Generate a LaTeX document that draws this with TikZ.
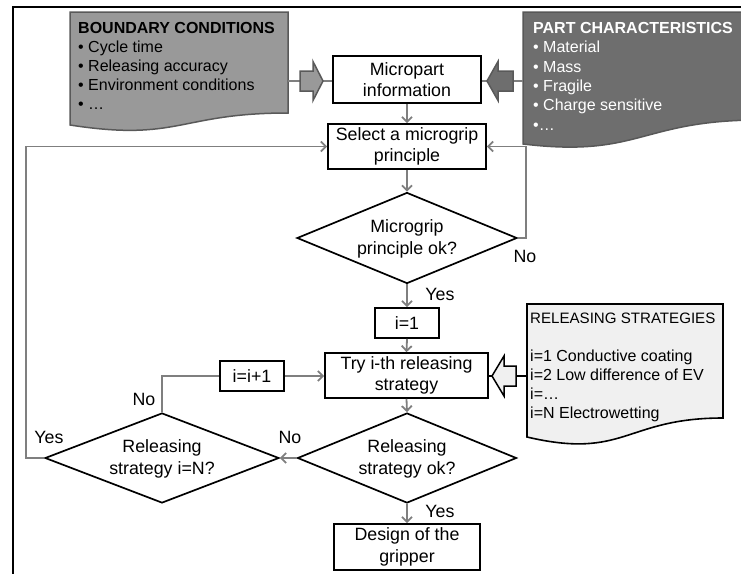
\documentclass[tikz,border=0pt]{standalone}
\usepackage{fontspec}
\setmainfont{Liberation Sans}
\usetikzlibrary{arrows.meta,shapes.geometric}
\definecolor{conn}{HTML}{7F7F7F}
\definecolor{bcfill}{HTML}{999999}
\definecolor{pcfill}{HTML}{6E6E6E}
\definecolor{rsfill}{HTML}{F0F0F0}
\definecolor{docedge}{HTML}{595959}
\begin{document}
\begin{tikzpicture}[x=1pt,y=-1pt,
 mainfont/.style={font=\fontsize{17.8}{21.5}\selectfont},
 box/.style={draw=black,line width=1.7pt,fill=white,align=center,inner sep=0pt,mainfont},
 dia/.style={draw=black,line width=1.7pt,diamond,inner sep=0pt},
 link/.style={draw=conn,line width=1.8pt},
 arr/.style={link,-{Straight Barb[length=5pt,width=10pt]}},
 lbl/.style={mainfont,inner sep=0pt},
 doctext/.style={font=\fontsize{16}{19}\selectfont,align=left,anchor=north west,inner sep=0pt},
 blockarrow/.style={line width=1.5pt,line join=miter}
]
\useasboundingbox (0,0) rectangle (741,573);
\begin{scope}
\clip (0,0) rectangle (741,573);
% frame
\draw[line width=1.8pt] (13,590) -- (13,7) -- (760,7);

% document shapes
\draw[fill=bcfill,draw=docedge,line width=1.5pt] (70,12) -- (288,12) -- (288,113) .. controls (179,113) and (179,142) .. (70,125) -- cycle;
\draw[fill=pcfill,draw=pcfill!80!black,line width=1.5pt] (523,12) -- (760,12) -- (760,120) .. controls (640,120) and (640,158) .. (523,144) -- cycle;
\draw[fill=rsfill,draw=black,line width=1.6pt] (527,304) -- (723,304) -- (723,418) .. controls (625,418) and (625,460) .. (527,437) -- cycle;

\node[doctext] (bct) at (78,22.3) {\textbf{BOUNDARY CONDITIONS}\\• Cycle time\\• Releasing accuracy\\• Environment conditions\\• …};
\node[doctext,text=white,font=\fontsize{16}{19.3}\selectfont] (pct) at (533,22.3) {\textbf{PART CHARACTERISTICS}\\• Material\\• Mass\\• Fragile\\• Charge sensitive\\•…};
\node[doctext] (rst) at (530,312.6) {{\fontsize{15.1}{19}\selectfont RELEASING STRATEGIES}\\[19pt]i=1 Conductive coating\\i=2 Low difference of EV\\i=…\\i=N Electrowetting};

% process nodes
\node[box,minimum width=148,minimum height=47] (micro) at (407,79.5) {Micropart\\information};
\node[box,minimum width=158,minimum height=45] (select) at (407,146.5) {Select a microgrip\\principle};
\node[dia,minimum width=220,minimum height=91] (d1) at (407,238) {};
\node[lbl,align=center] (d1t) at (407,239) {Microgrip\\principle ok?};
\node[box,minimum width=64,minimum height=30] (i1) at (407,323) {i=1};
\node[box,minimum width=163,minimum height=45] (try) at (406.5,375.5) {Try i-th releasing\\strategy};
\node[box,minimum width=64,minimum height=30] (inc) at (252,376) {i=i+1};
\node[dia,minimum width=219,minimum height=90] (d2) at (407,458) {};
\node[lbl,align=center] (d2t) at (407,459) {Releasing\\strategy ok?};
\node[dia,minimum width=234,minimum height=90] (d3) at (162,458) {};
\node[lbl,align=center] (d3t) at (162,459) {Releasing\\strategy i=N?};
\node[box,minimum width=146,minimum height=46] (design) at (407,547) {Design of the\\gripper};

% block arrows
\coordinate (bcE) at (288,81);
\coordinate (bcT) at (300,81);
\coordinate (bcH) at (323,81);
\draw[link,line width=1.4pt] (bcE) -- (bcT);
\draw[link,line width=1.4pt] (bcH) -- (bcH -| micro.west);
\draw[blockarrow,fill=bcfill,draw=docedge] (300,71) -- (313,71) -- (313,61.5) -- (323,81) -- (313,100.5) -- (313,91) -- (300,91) -- cycle;

\coordinate (pcW) at (523,81);
\coordinate (pcT) at (513,81);
\coordinate (pcH) at (487,81);
\draw[link,line width=1.4pt] (pcW) -- (pcT);
\draw[link,line width=1.4pt] (pcH) -- (pcH -| micro.east);
\draw[blockarrow,fill=pcfill,draw=docedge] (513,71) -- (498,71) -- (498,61.5) -- (487,81) -- (498,100.5) -- (498,91) -- (513,91) -- cycle;

\coordinate (rsW) at (527,376);
\coordinate (rsT) at (516,376);
\coordinate (rsH) at (492,376);
\draw[line width=1.6pt] (rsW) -- (rsT);
\draw[line width=1.4pt] (rsH) -- (rsH -| try.east);
\draw[blockarrow,fill=rsfill,draw=black] (516,366) -- (504,366) -- (504,356) -- (492,376) -- (504,396) -- (504,386) -- (516,386) -- cycle;

% connectors
\draw[arr] (micro.south) -- (select.north);
\draw[arr] (select.south) -- (d1.north);
\draw[arr] (d1.east) -- ++(8,0) |- (select.east);
\draw[arr] (d1.south) -- (i1.north);
\draw[arr] (i1.south) -- (try.north);
\draw[arr] (try.south) -- (d2.north);
\draw[arr] (d2.west) -- (d3.east);
\draw[arr] (d2.south) -- (design.north);
\draw[link] (d3.north) |- (inc.west);
\draw[arr] (inc.east) -- (inc.east -| try.west);
\draw[arr] (d3.west) -- ++(-18,0) |- (select.west);

% labels
\node[lbl] (no1) at (525,256) {No};
\node[lbl] (yes1) at (440,294) {Yes};
\node[lbl] (no2) at (144,399) {No};
\node[lbl] (no3) at (290,437) {No};
\node[lbl] (yes2) at (49,437) {Yes};
\node[lbl] (yes3) at (440,511) {Yes};
\end{scope}
\end{tikzpicture}
\end{document}
